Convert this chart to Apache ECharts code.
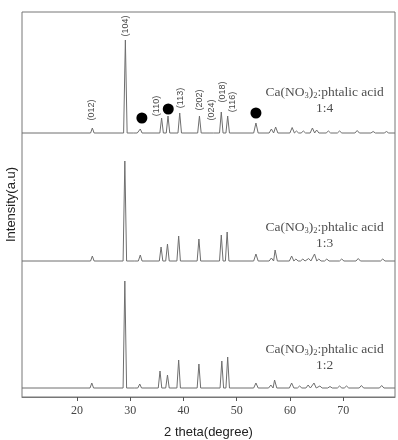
<!DOCTYPE html>
<html>
<head>
<meta charset="utf-8">
<script src="https://cdn.jsdelivr.net/npm/echarts@6/dist/echarts.min.js"></script>
<style>
  html, body { margin: 0; padding: 0; background: #fff; }
  #chart { width: 398px; height: 440px; }
</style>
</head>
<body>
<div id="chart"></div>
<script>
// peak centres (2 theta, degree) and heights (a.u.)
const pos12 = [22.8, 29.0, 31.1, 31.8, 35.6, 37.0, 39.1, 42.9, 47.2, 48.3, 53.6, 56.4, 57.1, 60.3, 61.8, 63.4, 64.5, 65.6, 67.5, 69.3, 70.6, 73.4, 77.2];
const h12   = [5,    107,  1.5,  4,    17,   13,   28,   24,   27,   31,   5,    3,    8,    5,    2,    3,    5,    2,    1.5,  2,    2,    2.5,  2.5];
const pos13 = [22.9, 29.0, 31.2, 31.9, 35.8, 37.0, 39.1, 42.9, 47.1, 48.2, 53.6, 56.5, 57.2, 60.3, 61.1, 62.4, 63.5, 64.6, 65.4, 66.9, 69.7, 72.8, 77.4];
const h13   = [5,    100,  1.5,  6,    14,   17,   25,   22,   26,   29,   7,    3,    11,   5,    2,    2,    2.5,  7,    2,    2,    2,    2.5,  2];
const pos14 = [22.9, 29.1, 31.0, 31.9, 35.9, 37.1, 39.3, 43.0, 45.3, 47.1, 48.3, 53.6, 56.5, 57.3, 60.4, 61.2, 62.5, 64.2, 65.0, 67.2, 69.3, 72.6, 75.6, 78.1];
const h14   = [5,    93,   1.5,  4,    15,   17,   20,   17,   1,    21,   17,   10,   4,    6,    5.5,  2,    2,    5,    3,    2,    2,    2.5,  1.5,  1.5];

// vertical offset of each pattern in the stack
const offsets = [9, 136, 264];
const ratios = ['1:2', '1:3', '1:4'];
const ratioY = [39.5, 161.5, 296.5];
const ratioX = 66.5;

// Miller indices on the 1:4 pattern
const hklNames = ['(012)', '(104)', '(110)', '(113)', '(202)', '(024)', '(018)', '(116)'];
const hklX = [22.8, 29.2, 35.0, 39.4, 43.0, 45.3, 47.4, 49.3];
const hklY = [287, 371, 291, 299, 297, 287, 305, 295];

// filled circles marking the second phase
const dotX = [32.2, 37.15, 53.6];
const dotY = [279, 288, 284];

const xTicks = [20, 30, 40, 50, 60, 70];

function pattern(pos, h, off) {
    const pts = [[9.7, off]];
    pos.forEach((p, i) => {
        // high-angle reflections are a little broader
        const w = p > 52 ? 0.42 : 0.33;
        pts.push([p - w, off], [p, off + h[i]], [p + w, off]);
    });
    pts.push([79.7, off]);
    return pts;
}

const curves = [pattern(pos12, h12, offsets[0]), pattern(pos13, h13, offsets[1]), pattern(pos14, h14, offsets[2])];

let chart = echarts.init(document.getElementById('chart'));
chart.setOption({
    animation: false,
    grid: { left: 22, right: 3, top: 12, bottom: 43, show: true, borderColor: '#777', borderWidth: 1, outerBoundsMode: 'none' },
    xAxis: {
        type: 'value', min: 9.7, max: 79.7,
        name: '2 theta(degree)', nameLocation: 'middle', nameGap: 29,
        nameTextStyle: { fontFamily: 'Liberation Sans', fontSize: 13, color: '#222' },
        axisLine: { lineStyle: { color: '#777' } },
        axisTick: { customValues: xTicks, length: 4, lineStyle: { color: '#555' } },
        axisLabel: { customValues: xTicks, fontFamily: 'Liberation Serif', fontSize: 12, color: '#444', margin: 8 },
        splitLine: { show: false }
    },
    yAxis: {
        type: 'value', min: 0, max: 385,
        name: 'Intensity(a.u)', nameLocation: 'middle', nameGap: 4, nameRotate: 90,
        nameTextStyle: { fontFamily: 'Liberation Sans', fontSize: 13, color: '#222' },
        axisLine: { show: false }, axisTick: { show: false }, axisLabel: { show: false },
        splitLine: { show: false }
    },
    series: [
        ...curves.map(c => ({
            type: 'line', data: c, symbol: 'none', silent: true,
            lineStyle: { color: '#6e6e6e', width: 1 }
        })),
        {
            type: 'scatter', data: dotX.map((x, i) => [x, dotY[i]]),
            symbol: 'circle', symbolSize: 11, itemStyle: { color: '#000', opacity: 1 }
        },
        {
            type: 'scatter', symbolSize: 0,
            data: hklX.map((x, i) => ({ value: [x, hklY[i]], name: hklNames[i] })),
            label: {
                show: true, position: 'inside', rotate: 90, formatter: '{b}',
                fontFamily: 'Liberation Sans', fontSize: 9, color: '#111'
            }
        },
        {
            type: 'scatter', symbolSize: 0,
            data: ratios.map((r, i) => ({ value: [ratioX, ratioY[i]], name: r })),
            label: {
                show: true, position: 'inside', align: 'center',
                formatter: p => '{m|Ca(NO}{s|3}{m|)}{s|2}{m|:phtalic acid}\n{m|' + p.name + '}',
                rich: {
                    m: { fontFamily: 'Liberation Serif', fontSize: 13.5, color: '#222', lineHeight: 16 },
                    s: { fontFamily: 'Liberation Serif', fontSize: 8.5, color: '#222', lineHeight: 16, verticalAlign: 'bottom', padding: [4, 0, 0, 0] }
                }
            }
        }
    ]
});
</script>
</body>
</html>
